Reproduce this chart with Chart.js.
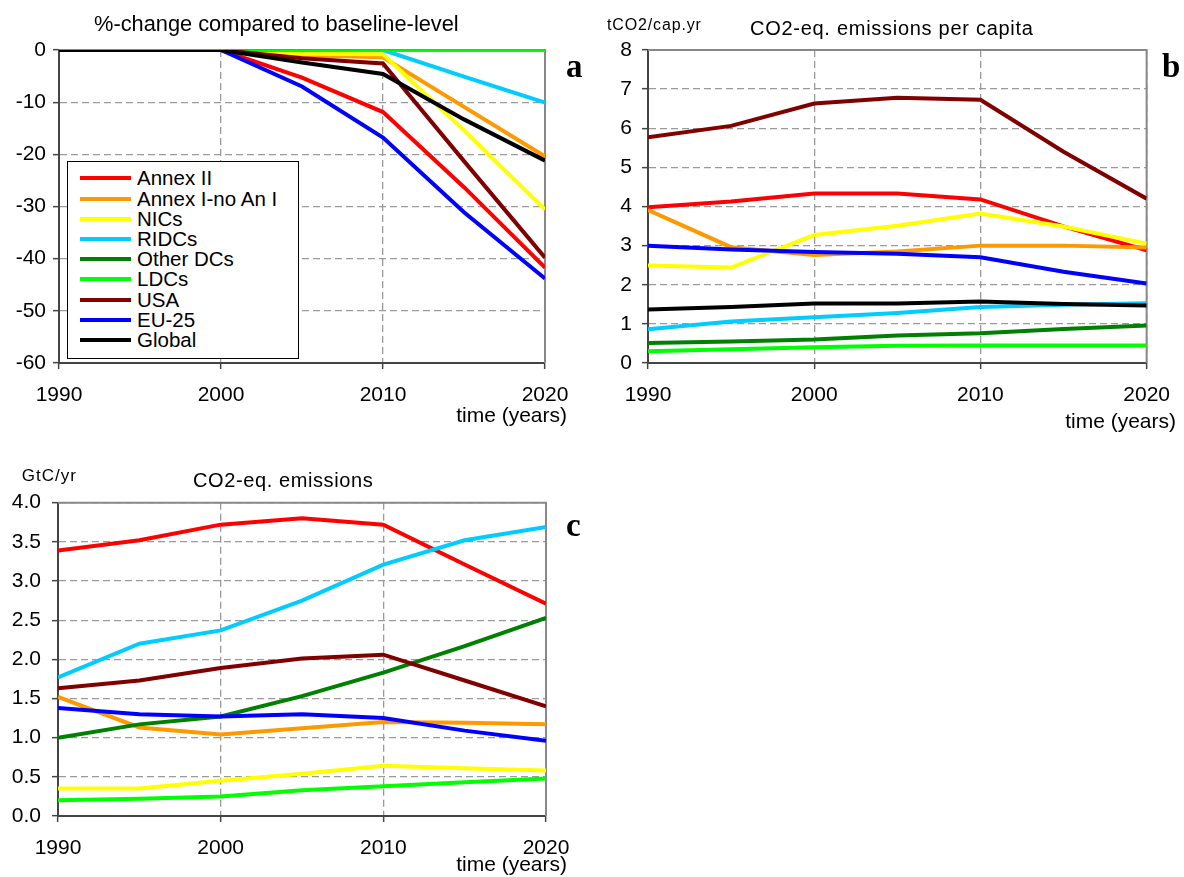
<!DOCTYPE html>
<html><head><meta charset="utf-8">
<script src="https://cdn.jsdelivr.net/npm/chart.js@4.4.1/dist/chart.umd.min.js"></script>
<style>
html,body{margin:0;padding:0;background:#fff;}
body{width:1184px;height:877px;position:relative;overflow:hidden;font-family:"Liberation Sans",Arial,sans-serif;color:#000;}
canvas{position:absolute;}
.txt{position:absolute;white-space:nowrap;line-height:1;}
.letter{position:absolute;white-space:nowrap;line-height:1;font-family:"Liberation Serif","Times New Roman",serif;font-weight:bold;font-size:33px;}
#legend{position:absolute;left:67px;top:161px;width:232px;height:198px;border:1px solid #000;background:#fff;box-sizing:border-box;}
.lline{position:absolute;left:12px;width:51px;height:4px;}
.ltxt{position:absolute;left:69px;font-size:20.5px;line-height:1;white-space:nowrap;}
</style></head>
<body>
<canvas id="cA" width="592" height="445" style="left:0;top:0"></canvas>
<canvas id="cB" width="592" height="445" style="left:592px;top:0"></canvas>
<canvas id="cC" width="592" height="427" style="left:0;top:450px"></canvas>

<div class="txt" style="left:94px;top:13.2px;font-size:21.8px">%-change compared to baseline-level</div>
<div class="txt" style="left:607px;top:16.5px;font-size:16px;letter-spacing:0.85px">tCO2/cap.yr</div>
<div class="txt" style="left:750px;top:18.1px;font-size:20px;letter-spacing:0.72px">CO2-eq. emissions per capita</div>
<div class="txt" style="left:21.7px;top:466.6px;font-size:17px;letter-spacing:1px">GtC/yr</div>
<div class="txt" style="left:193px;top:469.8px;font-size:20px;letter-spacing:0.6px">CO2-eq. emissions</div>
<div class="txt" style="right:617px;top:404.2px;font-size:21px">time (years)</div>
<div class="txt" style="right:8px;top:410.2px;font-size:21px">time (years)</div>
<div class="txt" style="right:617px;top:853.2px;font-size:21px">time (years)</div>
<div class="letter" style="left:566px;top:49.7px">a</div>
<div class="letter" style="left:1162px;top:50.4px">b</div>
<div class="letter" style="left:566px;top:509.4px">c</div>
<div id="legend"></div>

<script>
// ---------- data ----------
const years = [1990, 1995, 2000, 2005, 2010, 2015, 2020];
const seriesNames = ['Annex II', 'Annex I-no An I', 'NICs', 'RIDCs', 'Other DCs', 'LDCs', 'USA', 'EU-25', 'Global'];

// panel a: %-change compared to baseline-level
const pctAnnexII  = [0, 0, 0, -5.3, -11.9, -26.3, -41.7];
const pctAnnexI   = [0, 0, 0, -1.0, -1.4, -10.9, -20.4];
const pctNICs     = [0, 0, 0, -0.7, -0.8, -15.4, -30.6];
const pctRIDCs    = [0, 0, 0, 0, 0, -5.1, -10.1];
const pctOtherDCs = [0, 0, 0, 0, 0, 0, 0];
const pctLDCs     = [0, 0, 0, 0, 0, 0, 0];
const pctUSA      = [0, 0, 0, -1.6, -2.6, -21.3, -39.8];
const pctEU25     = [0, 0, 0, -7.0, -16.8, -31.1, -43.8];
const pctGlobal   = [0, 0, 0, -2.4, -4.6, -13.3, -21.2];

// panel b: CO2-eq. emissions per capita (tCO2/cap.yr)
const capAnnexII  = [3.98, 4.13, 4.33, 4.33, 4.18, 3.49, 2.88];
const capAnnexI   = [3.91, 2.96, 2.76, 2.85, 3.00, 3.00, 2.95];
const capNICs     = [2.49, 2.44, 3.27, 3.51, 3.82, 3.49, 3.05];
const capRIDCs    = [0.86, 1.06, 1.17, 1.28, 1.43, 1.49, 1.53];
const capOtherDCs = [0.51, 0.55, 0.60, 0.70, 0.76, 0.87, 0.96];
const capLDCs     = [0.30, 0.35, 0.40, 0.44, 0.45, 0.45, 0.45];
const capUSA      = [5.77, 6.06, 6.63, 6.78, 6.73, 5.40, 4.20];
const capEU25     = [3.00, 2.90, 2.84, 2.79, 2.70, 2.33, 2.03];
const capGlobal   = [1.37, 1.43, 1.52, 1.52, 1.57, 1.51, 1.47];

// panel c: CO2-eq. emissions (GtC/yr)
const emAnnexII  = [3.39, 3.52, 3.72, 3.80, 3.72, 3.21, 2.71];
const emAnnexI   = [1.52, 1.13, 1.04, 1.12, 1.20, 1.19, 1.17];
const emNICs     = [0.35, 0.35, 0.45, 0.54, 0.64, 0.61, 0.58];
const emRIDCs    = [1.77, 2.20, 2.37, 2.75, 3.21, 3.52, 3.69];
const emOtherDCs = [1.00, 1.17, 1.27, 1.53, 1.83, 2.17, 2.53];
const emLDCs     = [0.20, 0.22, 0.25, 0.33, 0.38, 0.43, 0.48];
const emUSA      = [1.63, 1.73, 1.89, 2.01, 2.06, 1.73, 1.40];
const emEU25     = [1.38, 1.30, 1.27, 1.30, 1.25, 1.09, 0.96];

// ---------- styles ----------
const seriesColors = ['#FF0000', '#FF9900', '#FFFF00', '#00CCFF', '#008000', '#00FF00', '#800000', '#0000FF', '#000000'];

Chart.defaults.font.family = '"Liberation Sans", Arial, sans-serif';
Chart.defaults.font.size = 21;
Chart.defaults.color = '#000';

const plotBorder = {
  id: 'plotBorder',
  beforeDatasetsDraw(chart) {
    const {ctx, chartArea: a} = chart;
    ctx.save();
    ctx.strokeStyle = '#888';
    ctx.lineWidth = 2;
    ctx.beginPath();
    ctx.moveTo(a.left, a.top);
    ctx.lineTo(a.right, a.top);
    ctx.lineTo(a.right, a.bottom);
    ctx.stroke();
    ctx.restore();
  }
};

function buildDatasets(valueArrays) {
  const n = valueArrays.length;
  return valueArrays.map((vals, i) => {
    if (!vals) return null;
    return {
      label: seriesNames[i],
      data: years.map((x, k) => ({x: x, y: vals[k]})),
      borderColor: seriesColors[i],
      backgroundColor: seriesColors[i],
      borderWidth: 4,
      pointRadius: 0,
      tension: 0,
      fill: false,
      order: n - i
    };
  }).filter(d => d);
}

function makeChart(id, opts) {
  const canvas = document.getElementById(id);
  const W = canvas.width, H = canvas.height;
  return new Chart(canvas, {
    type: 'line',
    data: {datasets: buildDatasets(opts.series)},
    options: {
      responsive: false,
      animation: false,
      devicePixelRatio: 1,
      layout: {padding: {left: 0, top: opts.top, right: W - opts.right, bottom: 0}},
      plugins: {legend: {display: false}, tooltip: {enabled: false}, title: {display: false}},
      scales: {
        x: {
          type: 'linear', min: 1990, max: 2020,
          afterFit: s => { s.height = H - opts.bottom; },
          afterBuildTicks: s => { s.ticks = [1990, 2000, 2010, 2020].map(v => ({value: v})); },
          ticks: {padding: 14, maxRotation: 0, autoSkip: false, callback: v => String(v)},
          grid: {color: '#9a9a9a', lineWidth: 1.3, tickLength: 6, tickColor: '#444', tickWidth: 1.5, tickBorderDash: []},
          border: {display: true, color: '#444', width: 2, dash: [7, 4]}
        },
        y: {
          min: opts.ymin, max: opts.ymax,
          afterFit: s => { s.width = opts.left; },
          afterBuildTicks: s => {
            const t = [];
            for (let v = opts.ymin; v <= opts.ymax + 1e-9; v += opts.step) t.push({value: +v.toFixed(3)});
            s.ticks = t;
          },
          ticks: {padding: opts.ypad, callback: opts.fmt},
          grid: {color: '#9a9a9a', lineWidth: 1.3, tickLength: 6, tickColor: '#444', tickWidth: 1.5, tickBorderDash: []},
          border: {display: true, color: '#444', width: 2, dash: [7, 4]}
        }
      }
    },
    plugins: [plotBorder]
  });
}

const chartA = makeChart('cA', {
  series: [pctAnnexII, pctAnnexI, pctNICs, pctRIDCs, pctOtherDCs, pctLDCs, pctUSA, pctEU25, pctGlobal],
  left: 59, right: 545, top: 50, bottom: 363,
  ymin: -60, ymax: 0, step: 10, ypad: 7, fmt: v => String(v)
});
makeChart('cB', {
  series: [capAnnexII, capAnnexI, capNICs, capRIDCs, capOtherDCs, capLDCs, capUSA, capEU25, capGlobal],
  left: 56, right: 562, top: 50, bottom: 363,
  ymin: 0, ymax: 8, step: 1, ypad: 10, fmt: v => String(v)
});
makeChart('cC', {
  series: [emAnnexII, emAnnexI, emNICs, emRIDCs, emOtherDCs, emLDCs, emUSA, emEU25, null],
  left: 58, right: 546, top: 52.7, bottom: 366,
  ymin: 0, ymax: 4, step: 0.5, ypad: 11, fmt: v => Number(v).toFixed(1)
});

// legend for panel a, generated from the chart's datasets
const legend = document.getElementById('legend');
chartA.data.datasets.forEach((ds, i) => {
  const cy = 16.3 + i * 20.2;
  const line = document.createElement('div');
  line.className = 'lline';
  line.style.top = (cy - 2) + 'px';
  line.style.background = ds.borderColor;
  legend.appendChild(line);
  const t = document.createElement('div');
  t.className = 'ltxt';
  t.style.top = (cy - 10) + 'px';
  t.textContent = ds.label;
  legend.appendChild(t);
});
</script>
</body></html>
